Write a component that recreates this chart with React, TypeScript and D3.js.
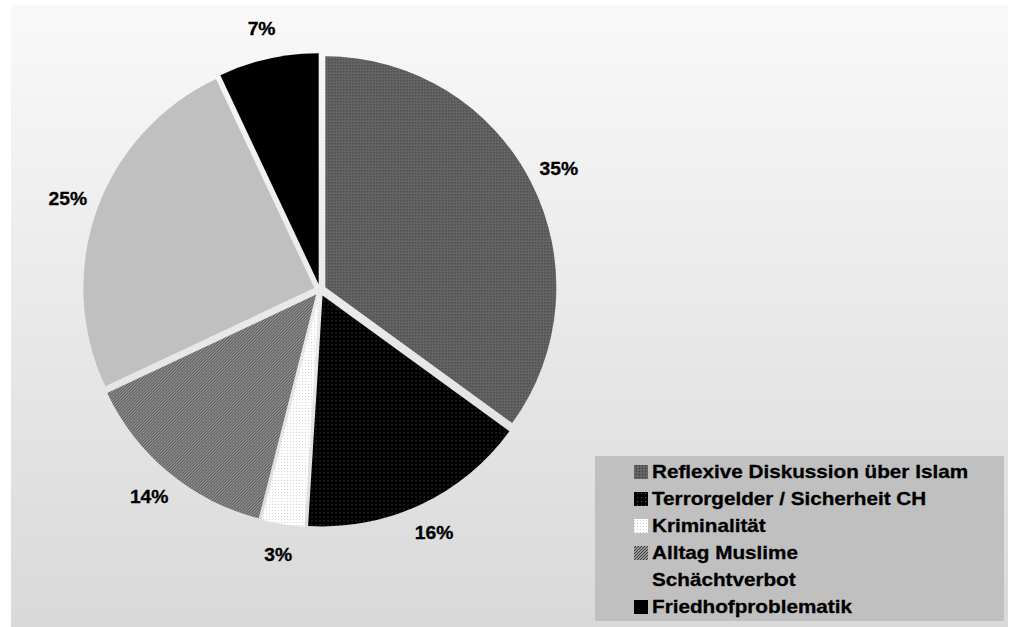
import React from "react";
import * as d3 from "d3";

const categories = [
  "Reflexive Diskussion über Islam",
  "Terrorgelder / Sicherheit CH",
  "Kriminalität",
  "Alltag Muslime",
  "Schächtverbot",
  "Friedhofproblematik",
];
const values = [35, 16, 3, 14, 25, 7];
const labels = ["35%", "16%", "3%", "14%", "25%", "7%"];
const fills = ["url(#pReflex)", "url(#pTerror)", "url(#pKrim)", "url(#pAlltag)", "#c0c0c0", "#000000"];

const W = 1012;
const H = 627;
const cx = 320;
const cy = 290;
const R = 231;
const explode = 6;
const labelR = 268;

export default function App() {
  const pie = d3.pie<number>().sort(null).value((d) => d)(values);
  const arc = d3.arc<d3.PieArcDatum<number>>().innerRadius(0).outerRadius(R);
  const font = "'Liberation Sans', Arial, sans-serif";
  const legX = 595;
  const legY = 456;
  const legW = 409;
  const legH = 165;
  const rowY = d3.scaleLinear().domain([0, 5]).range([472, 607]);
  return (
    <svg width={W} height={H} style={{ position: "absolute", left: 0, top: 0 }}>
      <defs>
        <linearGradient id="bg" x1="0" y1="0" x2="0" y2="1">
          <stop offset="0" stopColor="#f9f9f9" />
          <stop offset="1" stopColor="#d9d9d9" />
        </linearGradient>
        <pattern id="pReflex" width="3" height="3" patternUnits="userSpaceOnUse">
          <rect width="3" height="3" fill="#606060" />
          <rect x="0" y="0" width="1" height="1" fill="#3c3c3c" />
          <rect x="1.5" y="1.5" width="1" height="1" fill="#787878" />
        </pattern>
        <pattern id="pTerror" width="4" height="4" patternUnits="userSpaceOnUse">
          <rect width="4" height="4" fill="#000" />
          <rect x="1" y="1" width="1" height="1" fill="#5a5a5a" />
        </pattern>
        <pattern id="pKrim" width="3" height="3" patternUnits="userSpaceOnUse">
          <rect width="3" height="3" fill="#fff" />
          <rect x="1" y="1" width="1" height="1" fill="#d0d0d0" />
        </pattern>
        <pattern id="pAlltag" width="3" height="3" patternUnits="userSpaceOnUse">
          <rect width="3" height="3" fill="#e6e6e6" />
          <path d="M-1,1 L1,-1 M0,3 L3,0 M2,4 L4,2" stroke="#3a3a3a" strokeWidth="1.3" />
        </pattern>
      </defs>
      <rect x={11} y={5} width={997} height={H - 5} fill="url(#bg)" />
      {pie.map((p, i) => {
        const mid = (p.startAngle + p.endAngle) / 2;
        const dx = Math.sin(mid) * explode;
        const dy = -Math.cos(mid) * explode;
        return (
          <path
            key={i}
            d={arc(p) || ""}
            fill={fills[i]}
            transform={`translate(${cx + dx},${cy + dy})`}
          />
        );
      })}
      {pie.map((p, i) => {
        const mid = (p.startAngle + p.endAngle) / 2;
        const lx = cx + Math.sin(mid) * labelR;
        const ly = cy - Math.cos(mid) * labelR;
        return (
          <text
            key={i}
            transform={`translate(${lx},${ly}) scale(1.07,1)`}
            textAnchor="middle"
            dominantBaseline="central"
            fontFamily={font}
            fontWeight="bold"
            fontSize={18}
            fill="#000"
            stroke="#000"
            strokeWidth={0.3}
          >
            {labels[i]}
          </text>
        );
      })}
      <rect x={legX} y={legY} width={legW} height={legH} fill="#c0c0c0" />
      {categories.map((c, i) => (
        <g key={i}>
          <rect x={634} y={rowY(i) - 7} width={14} height={14} fill={fills[i]} />
          <text
            transform={`translate(652,${rowY(i)}) scale(1.15,1)`}
            dominantBaseline="central"
            fontFamily={font}
            fontWeight="bold"
            fontSize={18}
            fill="#000"
            stroke="#000"
            strokeWidth={0.3}
          >
            {c}
          </text>
        </g>
      ))}
    </svg>
  );
}
